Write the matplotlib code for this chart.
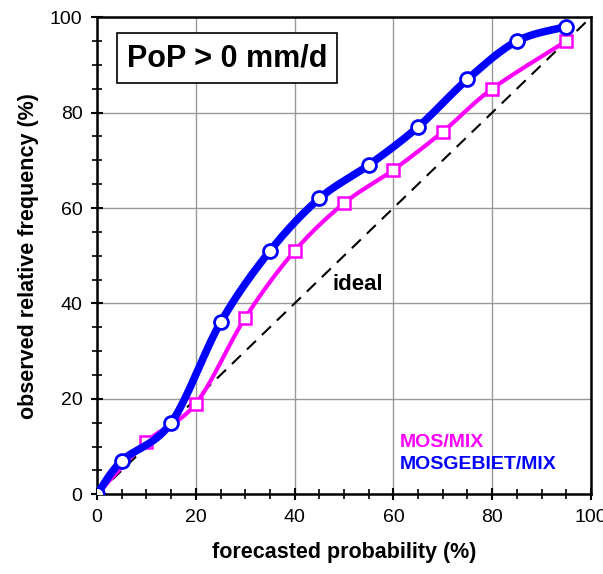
import matplotlib.pyplot as plt
import numpy as np
from matplotlib.ticker import MultipleLocator

plt.rcParams['font.family'] = ['Liberation Sans', 'DejaVu Sans']

# forecast probability / observed frequency (%)
gebiet_x = [0, 5, 15, 25, 35, 45, 55, 65, 75, 85, 95]
gebiet_y = [0, 7, 15, 36, 51, 62, 69, 77, 87, 95, 98]
mos_x = [0, 10, 20, 30, 40, 50, 60, 70, 80, 95]
mos_y = [0, 11, 19, 37, 51, 61, 68, 76, 85, 95]


def smooth(x, y, n=20):
    # Catmull-Rom curve through the points (like a smoothed Excel line)
    p = np.column_stack([x, y]).astype(float)
    p = np.vstack([p[0], p, p[-1]])
    out = []
    t = np.linspace(0, 1, n, endpoint=False)[:, None]
    for i in range(1, len(p) - 2):
        p0, p1, p2, p3 = p[i - 1], p[i], p[i + 1], p[i + 2]
        seg = 0.5 * ((2 * p1) + (-p0 + p2) * t + (2 * p0 - 5 * p1 + 4 * p2 - p3) * t ** 2
                     + (-p0 + 3 * p1 - 3 * p2 + p3) * t ** 3)
        out.append(seg)
    out.append(p[-2][None, :])
    out = np.vstack(out)
    return out[:, 0], out[:, 1]


fig = plt.figure(figsize=(6.03, 5.74), dpi=100)
ax = fig.add_axes([0.161, 0.139, 0.819, 0.831])

ax.plot([0, 100], [0, 100], color='black', lw=1.5, ls=(0, (6, 4)), zorder=2)

sx, sy = smooth(mos_x, mos_y)
ax.plot(sx, sy, color='#ff00ff', lw=3, zorder=3)
ax.plot(mos_x, mos_y, 's', ms=8.5, mfc='white', mec='#ff00ff', mew=1.8, zorder=4)

sx, sy = smooth(gebiet_x, gebiet_y)
ax.plot(sx, sy, color='#0000ff', lw=5.5, zorder=5)
ax.plot(gebiet_x, gebiet_y, 'o', ms=10, mfc='white', mec='#0000ff', mew=2, zorder=6)

ax.set_xlim(0, 100)
ax.set_ylim(0, 100)
ax.xaxis.set_major_locator(MultipleLocator(20))
ax.yaxis.set_major_locator(MultipleLocator(20))
ax.xaxis.set_minor_locator(MultipleLocator(5))
ax.yaxis.set_minor_locator(MultipleLocator(5))
ax.tick_params(which='major', direction='inout', length=9, width=1.5, labelsize=14, pad=6)
ax.tick_params(which='minor', direction='inout', length=7, width=1.2)
ax.grid(which='major', color='#999999', lw=1)
for s in ax.spines.values():
    s.set_linewidth(1.8)

ax.set_xlabel('forecasted probability (%)', fontsize=15.5, fontweight='bold', labelpad=12)
ax.set_ylabel('observed relative frequency (%)', fontsize=15.5, fontweight='bold', labelpad=8)

ax.text(26.3, 91.4, 'PoP > 0 mm/d', fontsize=22, fontweight='bold', ha='center', va='center',
        bbox=dict(facecolor='white', edgecolor='black', lw=1.2, pad=7), zorder=7)
ax.text(52.8, 44, 'ideal', fontsize=16, fontweight='bold', ha='center', va='center', zorder=7)
ax.text(61.3, 10.9, 'MOS/MIX', color='#ff00ff', fontsize=14, fontweight='bold', va='center', zorder=7)
ax.text(61.3, 6.2, 'MOSGEBIET/MIX', color='#0000ff', fontsize=14, fontweight='bold', va='center', zorder=7)

fig.savefig('out.png', dpi=100)
